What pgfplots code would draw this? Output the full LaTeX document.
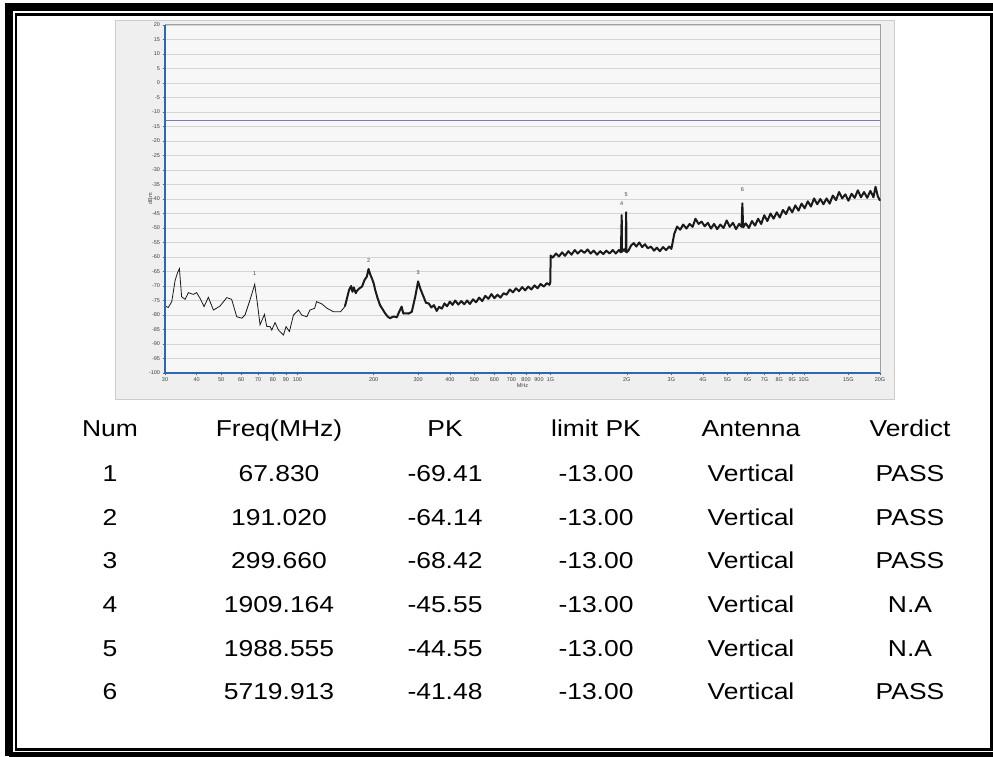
\documentclass[border=0pt]{standalone}
\usepackage{pgfplots}
\usepackage{pgfplotstable}
\pgfplotsset{compat=1.18}
\usepackage{fontspec}
\setmainfont{Liberation Sans}
\newfontfamily\tabfont[FakeStretch=1.15]{Liberation Sans}
\definecolor{panel}{HTML}{EFEFEF}
\definecolor{plotbg}{HTML}{F7F7F7}
\definecolor{gridc}{HTML}{D4D4D4}
\definecolor{axblue}{HTML}{2E68B0}
\definecolor{limitc}{HTML}{7878C8}
\definecolor{trace}{HTML}{1A1A1A}

\pgfplotstableread{
f v
30 -76.9
30.9 -77.4
31.9 -75.4
32.9 -68
33.6 -65.5
34.2 -64
34.9 -73.7
36.0 -74.6
37.1 -72.3
38.8 -72.9
40.0 -72.3
41.3 -74.3
42.8 -77.1
44.5 -73.9
46.6 -78.3
49.5 -76.9
52.6 -74
55.0 -74.6
57.6 -80.6
60.3 -81.1
62.1 -80
65.0 -74.8
67.83 -69.41
69.5 -76
71.2 -83.4
74.1 -79.8
75.7 -84
78.0 -84
79.2 -85.2
81.6 -82.6
84.2 -85.2
88.1 -86.9
90.2 -84
93.0 -85.7
96.5 -80
101 -78.3
104 -80
109 -80.6
112 -78.3
117 -77.7
119 -75.4
125 -76.2
131 -77.7
139 -78.9
148 -78.9
154 -77.1
}\lowtrace

\pgfplotstableread{
f v
154 -77.1
160 -71.4
163 -70
165 -72
167 -70.5
170 -72.5
172 -71.6
176 -70.8
180 -70.2
184 -68
188 -66.8
191.02 -64.14
194 -66
197 -67.4
200 -69
203 -71.4
207 -74
212 -76.6
217 -78
222 -79.4
227 -80.5
232 -81.1
240 -80.5
247 -80.8
252 -79
258 -77.1
262 -79.5
266 -79.4
275 -79.5
283 -78.9
288 -76
292 -73.7
299.66 -68.42
306 -71
315 -73.7
322 -75.8
330 -76.0
338 -77.4
346 -76.6
355 -78.6
363 -77.2
372 -77.8
381 -76.0
390 -77.0
400 -75.4
410 -76.5
420 -75.0
432 -76.4
444 -75.2
456 -76.3
468 -75.0
480 -76.2
494 -74.6
508 -75.6
522 -74.0
537 -75.2
552 -73.4
568 -74.4
584 -72.8
600 -74.2
617 -73.0
634 -74.0
652 -72.5
670 -73.0
690 -71.2
710 -72.2
730 -70.8
750 -71.8
772 -70.4
794 -71.5
816 -70.2
840 -71.2
864 -69.8
888 -70.8
913 -69.3
940 -70.2
967 -69.0
990 -69.6
998 -68.6
1000 -59.5
1020 -60.2
1050 -58.8
1080 -59.8
1110 -58.4
1140 -59.6
1175 -58.0
1210 -59.2
1245 -57.6
1280 -58.8
1320 -57.6
1360 -58.6
1400 -57.4
1440 -58.8
1480 -57.8
1525 -59.2
1570 -58.0
1615 -59.0
1660 -57.8
1710 -58.8
1760 -57.6
1810 -58.8
1860 -57.6
1895 -58.4
1909.164 -45.55
1915 -58.2
1950 -57.4
1980 -58.2
1988.555 -44.55
1995 -58.4
2030 -57.8
2080 -56.0
2130 -55.2
2180 -56.4
2240 -55.0
2300 -56.6
2360 -55.6
2420 -57.0
2490 -56.4
2560 -57.8
2630 -56.8
2700 -58.0
2780 -56.6
2860 -57.6
2940 -56.4
3000 -57.2
3080 -52.0
3160 -49.5
3250 -50.6
3340 -48.8
3440 -50.2
3540 -48.6
3640 -49.6
3734 -46.8
3840 -48.6
3950 -47.8
4060 -49.4
4180 -48.2
4300 -50.2
4420 -48.6
4550 -50.4
4680 -48.8
4820 -50.0
4960 -47.4
5100 -49.6
5250 -48.2
5400 -50.4
5550 -48.6
5680 -49.6
5719.913 -41.48
5760 -49.8
5900 -48.4
6070 -50.0
6240 -47.6
6420 -49.2
6600 -46.8
6790 -48.6
6980 -45.6
7180 -47.6
7390 -45.0
7600 -46.8
7820 -44.6
8040 -46.4
8270 -43.8
8510 -45.2
8750 -42.8
9000 -44.6
9260 -42.2
9530 -44.0
9800 -41.6
10080 -43.2
10370 -40.8
10670 -42.6
10980 -39.8
11300 -41.8
11620 -40.0
11960 -41.8
12300 -39.8
12650 -41.6
13020 -38.8
13400 -40.4
13780 -37.6
14180 -39.8
14590 -38.4
15010 -40.6
15440 -38.2
15890 -39.6
16350 -37.0
16820 -39.4
17300 -37.6
17800 -39.6
18320 -37.2
18850 -39.4
19200 -35.8
19600 -39.0
20000 -40.6
}\hightrace

\begin{document}
\begin{tikzpicture}[x=1pt,y=1pt]
\useasboundingbox (0,0) rectangle (993,756);
\fill[white] (0,0) rectangle (993,756);
\fill[panel] (115,357) rectangle (894,736);
\draw[gray!40, line width=0.6pt] (115,357) rectangle (894,736);
\begin{axis}[
  at={(165pt,383pt)}, anchor=south west,
  scale only axis, width=715pt, height=348pt,
  xmode=log, xmin=30, xmax=20000, ymin=-100, ymax=20,
  axis background/.style={fill=plotbg},
  axis line style={draw=gray!75, line width=1pt},
  ytick={-100,-95,...,20},
  xtick={30,40,50,60,70,80,90,100,200,300,400,500,600,700,800,900,1000,2000,3000,4000,5000,6000,7000,8000,9000,10000,15000,20000},
  xticklabels={30,40,50,60,70,80,90,100,200,300,400,500,600,700,800,900,1G,2G,3G,4G,5G,6G,7G,8G,9G,10G,15G,20G},
  xminorticks=false, yminorticks=false,
  ymajorgrids, grid style={draw=gridc, line width=0.6pt},
  xtick pos=bottom, ytick pos=left, tick align=outside,
  major tick length=2.5pt,
  tick style={draw=axblue, line width=0.5pt},
  tick label style={font=\fontsize{5.5}{6.5}\selectfont, text=black!75},
  /pgf/number format/assume math mode=true,
  xticklabel style={yshift=1pt},
  yticklabel style={xshift=1pt},
  xlabel={MHz}, ylabel={dBm},
  xlabel style={font=\fontsize{5.5}{6.5}\selectfont, text=black!75, yshift=5pt},
  ylabel style={font=\fontsize{5.5}{6.5}\selectfont, text=black!75, yshift=-10pt},
  clip=false,
]
\addplot[limitc, line width=1.5pt] coordinates {(30,-13) (20000,-13)};
\addplot[trace, line width=0.8pt] table[x=f,y=v] {\lowtrace};
\addplot[trace, line width=2pt, line join=round] table[x=f,y=v] {\hightrace};
\node[font=\fontsize{5.5}{6.5}\selectfont, text=black!75, anchor=south] at (axis cs:67.83,-69.41) [yshift=5pt] {1};
\node[font=\fontsize{5.5}{6.5}\selectfont, text=black!75, anchor=south] at (axis cs:191.02,-64.14) [yshift=3pt] {2};
\node[font=\fontsize{5.5}{6.5}\selectfont, text=black!75, anchor=south] at (axis cs:299.66,-68.42) [yshift=3pt] {3};
\node[font=\fontsize{5.5}{6.5}\selectfont, text=black!75, anchor=south] at (axis cs:1909.164,-45.55) [yshift=6pt] {4};
\node[font=\fontsize{5.5}{6.5}\selectfont, text=black!75, anchor=south] at (axis cs:1988.555,-44.55) [yshift=12pt] {5};
\node[font=\fontsize{5.5}{6.5}\selectfont, text=black!75, anchor=south] at (axis cs:5719.913,-41.48) [yshift=8pt] {6};
\end{axis}
\draw[axblue, line width=1.2pt] (165,731) -- (165,383) -- (880,383);
% table
\begin{scope}[every node/.style={anchor=base, inner sep=0pt, font=\tabfont\fontsize{23}{27}\selectfont}]
\node at (110,319.3) {Num};
\node at (279,319.3) {Freq(MHz)};
\node at (445,319.3) {PK};
\node at (596,319.3) {limit PK};
\node at (751,319.3) {Antenna};
\node at (910,319.3) {Verdict};
\node at (110,274.3) {1}; \node at (279,274.3) {67.830}; \node at (445,274.3) {-69.41}; \node at (596,274.3) {-13.00}; \node at (751,274.3) {Vertical}; \node at (910,274.3) {PASS};
\node at (110,230.7) {2}; \node at (279,230.7) {191.020}; \node at (445,230.7) {-64.14}; \node at (596,230.7) {-13.00}; \node at (751,230.7) {Vertical}; \node at (910,230.7) {PASS};
\node at (110,187.1) {3}; \node at (279,187.1) {299.660}; \node at (445,187.1) {-68.42}; \node at (596,187.1) {-13.00}; \node at (751,187.1) {Vertical}; \node at (910,187.1) {PASS};
\node at (110,143.5) {4}; \node at (279,143.5) {1909.164}; \node at (445,143.5) {-45.55}; \node at (596,143.5) {-13.00}; \node at (751,143.5) {Vertical}; \node at (910,143.5) {N.A};
\node at (110,99.9) {5}; \node at (279,99.9) {1988.555}; \node at (445,99.9) {-44.55}; \node at (596,99.9) {-13.00}; \node at (751,99.9) {Vertical}; \node at (910,99.9) {N.A};
\node at (110,56.3) {6}; \node at (279,56.3) {5719.913}; \node at (445,56.3) {-41.48}; \node at (596,56.3) {-13.00}; \node at (751,56.3) {Vertical}; \node at (910,56.3) {PASS};
\end{scope}
% frame
\draw[black, line width=8pt] (9,0) -- (9,749) -- (1000,749);
\draw[black, line width=8pt] (9,0) -- (1000,0);
\draw[black, line width=2.5pt] (16,6.5) rectangle (991.5,741.5);
\end{tikzpicture}
\end{document}
